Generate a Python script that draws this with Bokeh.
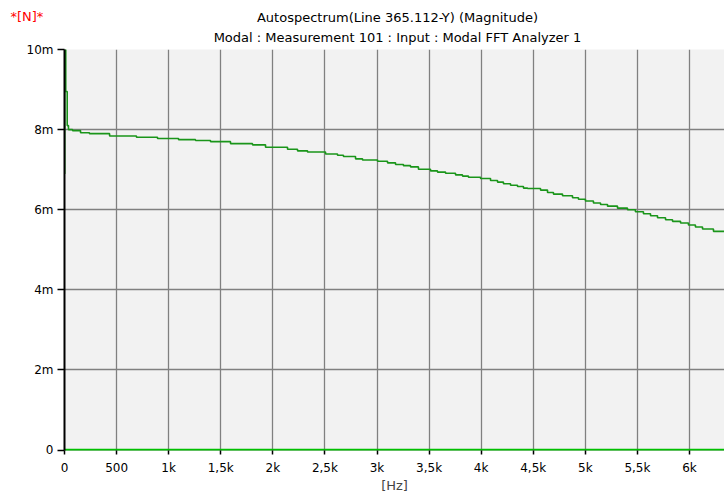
from bokeh.plotting import figure
from bokeh.models import Label, FixedTicker, Range1d
from bokeh.embed import file_html
from bokeh.resources import INLINE

# ---- data (frequency in Hz, magnitude in mN) ----
freq_hz = [0, 2, 12, 26, 38, 77, 154, 240, 433, 691, 893, 1095, 1258, 1402, 1594,
           1805, 1930, 2141, 2237, 2333, 2506, 2621, 2678, 2794, 2861, 3005, 3101,
           3178, 3254, 3322, 3398, 3514, 3581, 3658, 3754, 3821, 3878, 3994, 4090,
           4157, 4214, 4282, 4349, 4406, 4445, 4570, 4637, 4694, 4781, 4877, 4934,
           5001, 5078, 5146, 5213, 5309, 5405, 5481, 5558, 5626, 5693, 5770, 5837,
           5914, 5990, 6057, 6125, 6230, 6340]
magnitude_mN = [6.9, 10.0, 8.95, 8.1, 8.0, 7.975, 7.92, 7.90, 7.84, 7.81, 7.78, 7.75,
                7.73, 7.70, 7.65, 7.62, 7.56, 7.51, 7.47, 7.44, 7.39, 7.36, 7.33, 7.27,
                7.24, 7.21, 7.17, 7.13, 7.10, 7.07, 7.01, 6.97, 6.94, 6.91, 6.87, 6.84,
                6.81, 6.78, 6.73, 6.69, 6.65, 6.61, 6.58, 6.54, 6.53, 6.49, 6.43, 6.39,
                6.35, 6.30, 6.26, 6.22, 6.17, 6.13, 6.09, 6.04, 6.00, 5.95, 5.90, 5.85,
                5.80, 5.75, 5.71, 5.67, 5.62, 5.57, 5.52, 5.46, 5.46]
zero_freq_hz = [0, 6340]
zero_mN = [0, 0]

x_ticks = [0, 500, 1000, 1500, 2000, 2500, 3000, 3500, 4000, 4500, 5000, 5500, 6000]
x_tick_labels = ["0", "500", "1k", "1,5k", "2k", "2,5k", "3k", "3,5k", "4k", "4,5k",
                 "5k", "5,5k", "6k"]
y_ticks = [0, 2, 4, 6, 8, 10]
y_tick_labels = ["0", "2m", "4m", "6m", "8m", "10m"]

title_1 = "Autospectrum(Line 365.112-Y) (Magnitude)"
title_2 = "Modal : Measurement 101 : Input : Modal FFT Analyzer 1"
unit_text = "*[N]*"
x_label = "[Hz]"

FONT = "DejaVu Sans"

p = figure(width=724, height=495, output_backend="svg", toolbar_location=None,
           x_range=Range1d(0, 6336), y_range=Range1d(-0.01, 10.0),
           min_border_left=64, min_border_right=0, min_border_top=49,
           min_border_bottom=45)
p.outline_line_color = None
p.background_fill_color = "#f2f2f2"
p.border_fill_color = "white"

# grid
for g in (p.xgrid, p.ygrid):
    g.grid_line_color = "#808080"
    g.grid_line_width = 1.3
p.xgrid.ticker = FixedTicker(ticks=x_ticks)
p.ygrid.ticker = FixedTicker(ticks=y_ticks)

# axes
xa = p.xaxis[0]
xa.ticker = FixedTicker(ticks=x_ticks)
xa.major_label_overrides = dict(zip(x_ticks, x_tick_labels))
xa.axis_line_color = None
xa.major_tick_line_color = "black"
xa.major_tick_line_width = 1.5
xa.major_tick_in = 0
xa.major_tick_out = 4
xa.minor_tick_line_color = None
xa.major_label_standoff = 6
xa.major_label_text_font = FONT
xa.major_label_text_font_size = "12px"
xa.major_label_text_color = "black"
xa.axis_label = x_label
xa.axis_label_text_font = FONT
xa.axis_label_text_font_size = "13px"
xa.axis_label_text_font_style = "normal"
xa.axis_label_standoff = 0

ya = p.yaxis[0]
ya.ticker = FixedTicker(ticks=y_ticks)
ya.major_label_overrides = dict(zip(y_ticks, y_tick_labels))
ya.axis_line_color = "black"
ya.axis_line_width = 2
ya.major_tick_line_color = "black"
ya.major_tick_line_width = 1.5
ya.major_tick_in = 0
ya.major_tick_out = 7
ya.minor_tick_line_color = None
ya.major_label_standoff = 4
ya.major_label_text_font = FONT
ya.major_label_text_font_size = "12px"
ya.major_label_text_color = "black"

# series
p.step(freq_hz, magnitude_mN, mode="after", line_color="#1a951a", line_width=1.6)
p.line(zero_freq_hz, zero_mN, line_color="#00c000", line_width=2.5)

# header texts, each in its own side panel above the frame (first = nearest)
def header(text, x, y, align, color):
    return Label(x=x, y=y, x_units="screen", y_units="screen", text=text,
                 text_align=align, text_baseline="middle", text_font=FONT,
                 text_font_size="13px", text_color=color)

p.add_layout(header(title_2, 333, 12, "center", "black"), "above")
p.add_layout(header(title_1, 333, 17, "center", "black"), "above")
p.add_layout(header(unit_text, -54, 3, "left", "#ff0000"), "above")

open("out.html", "w").write(file_html(p, INLINE))
